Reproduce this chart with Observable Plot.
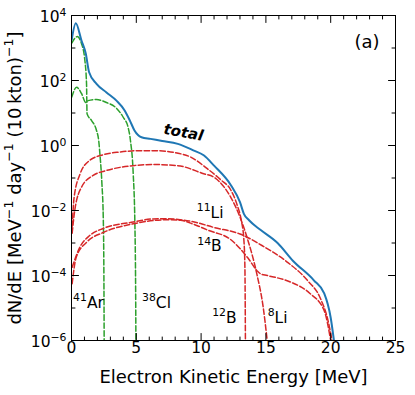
<!DOCTYPE html>
<html><head><meta charset="utf-8">
<script src="https://cdn.jsdelivr.net/npm/d3@7"></script>
<script src="https://cdn.jsdelivr.net/npm/@observablehq/plot@0.6"></script>
<style>html,body{margin:0;padding:0;background:#fff;}</style>
</head><body><div id="chart"></div>
<script>
// ---- data: [electron kinetic energy (MeV), dN/dE] ----
const total = [[0.02,1.8e3],[0.33,5.75e3],[0.77,1.7e3],[1.1,6.8e2],[1.36,1.8e2],[1.93,79],[2.7,43],[3.47,24],[4.1,12],[4.5,5.9],[4.86,2.9],[5.4,1.8],[6.1,1.6],[7.0,1.38],[8.2,1.12],[9.4,0.71],[10.2,0.5],[11.0,0.24],[12.3,0.06],[13.0,0.018],[13.3,7.9e-3],[13.7,5.0e-3],[14.6,2.5e-3],[15.9,1.0e-3],[17.1,2.8e-4],[18.7,7.1e-5],[19.5,2.8e-5],[20.0,5e-6],[20.25,1e-6]];
const ar41 = [[0.02,1.4e3],[0.44,2.24e3],[0.77,1.38e3],[1.03,4.2e2],[1.16,79],[1.2,9.5],[1.54,5.9],[1.93,2.9],[2.1,1.4],[2.2,0.5],[2.35,0.063],[2.45,6.3e-3],[2.5,1e-4],[2.52,1e-6]];
const cl38 = [[0.02,31],[0.39,62],[0.77,40],[1.1,21],[1.28,24],[1.93,26],[2.7,21],[3.47,14],[3.99,7.4],[4.37,3.6],[4.55,1.4],[4.76,0.14],[4.89,4e-3],[4.95,3.2e-5],[4.97,1e-6]];
const b12 = [[0.05,3.2e-3],[0.2,0.025],[0.64,0.126],[1.41,0.35],[2.45,0.52],[3.73,0.63],[5.1,0.69],[6.5,0.69],[8.0,0.6],[9.2,0.44],[10.5,0.19],[11.5,0.089],[12.3,0.042],[12.8,0.014],[13.1,5e-3],[13.3,1.26e-3],[13.38,1.8e-4],[13.42,1e-6]];
const li8 = [[0.05,2e-3],[0.25,0.01],[0.77,0.052],[1.67,0.12],[2.7,0.17],[4.76,0.24],[6.3,0.26],[8.2,0.24],[10.2,0.135],[11.0,0.105],[12.3,0.025],[13.0,6.3e-3],[13.6,1.26e-3],[14.3,1.12e-4],[14.8,1e-5],[15.1,1e-6]];
const li11 = [[0.05,1.8e-4],[0.64,7.4e-4],[1.41,1.7e-3],[2.45,2.8e-3],[4.76,4.4e-3],[6.3,5.5e-3],[7.4,5.6e-3],[8.4,5.2e-3],[9.4,4.5e-3],[11.0,3.0e-3],[13.0,1.9e-3],[14.8,7.9e-4],[16.7,2.5e-4],[18.2,7.1e-5],[19.2,2.0e-5],[19.8,4e-6],[20.1,1e-6]];
const b14 = [[0.05,5.6e-5],[0.36,3.6e-4],[1.16,1.05e-3],[2.45,2.1e-3],[4.76,3.9e-3],[6.3,4.9e-3],[7.4,5.2e-3],[8.4,5.0e-3],[9.4,3.8e-3],[10.5,2.5e-3],[12.3,1.26e-3],[13.6,3.5e-4],[14.4,1.3e-4],[14.6,1.12e-4],[15.1,1e-4],[16.9,6.3e-5],[18.4,2.8e-5],[19.5,8.3e-6],[20.0,1e-6]];

// ---- ticks and labels ( ^{..} marks a superscript ) ----
const xTicks = [0,5,10,15,20,25];
const xMinorTicks = [1,2,3,4,6,7,8,9,11,12,13,14,16,17,18,19,21,22,23,24];
const yTicks = [1e4,1e2,1,1e-2,1e-4,1e-6];
const yTickLabels = ["10^{4}","10^{2}","10^{0}","10^{−2}","10^{−4}","10^{−6}"];
const yMinorTicks = [1e3,10,0.1,1e-3,1e-5];
const isotopeLabels = [
  {x:1.31, y:1.4e-5, text:"^{41}Ar"},
  {x:6.56, y:1.4e-5, text:"^{38}Cl"},
  {x:11.8, y:5.0e-6, text:"^{12}B"},
  {x:15.9, y:4.8e-6, text:"^{8}Li"},
  {x:10.7, y:8.2e-3, text:"^{11}Li"},
  {x:10.65, y:7.8e-4, text:"^{14}B"}
];
const totalLabel = [{x:8.64, y:2.5, text:"total"}];
const panelLabel = [{x:22.8, y:1.5e3, text:"(a)"}];
const xTitle = "Electron Kinetic Energy [MeV]";
const yTitle = "dN/dE [MeV^{−1} day^{−1} (10\u2009kton)^{−1}]";

const BLUE = "#1f77b4", GREEN = "#2ca02c", RED = "#d62728";
const dash = "5.5,2.4";
const FONT = "DejaVu Sans, sans-serif";

const tickShape = (dx, dy) => ({draw(ctx, l) { ctx.moveTo(0, 0); ctx.lineTo(dx * l, dy * l); }});
function ticks(values, dim, len) {
  const ch = dim === "x" ? {x: d => d} : {y: d => d};
  const sides = dim === "x" ? [["bottom", 0, -1], ["top", 0, 1]] : [["left", 1, 0], ["right", -1, 0]];
  return sides.map(([fa, dx, dy]) => Plot.vector(values, {...ch, frameAnchor: fa, length: len, anchor: "start", shape: tickShape(dx, dy), stroke: "black", strokeWidth: 1}));
}
const line = (data, color, w, dashed) => Plot.line(data, {x: d => d[0], y: d => d[1], stroke: color, strokeWidth: w, strokeDasharray: dashed ? dash : null, curve: "monotone-x", clip: true});

const chart = Plot.plot({
  width: 415, height: 395,
  marginLeft: 71, marginRight: 20, marginTop: 15, marginBottom: 55,
  style: {fontFamily: FONT, fontSize: "16px", background: "white", color: "black"},
  x: {domain: [0, 25], axis: null},
  y: {type: "log", domain: [1e-6, 1e4], axis: null},
  marks: [
    line(ar41, GREEN, 1.5, true),
    line(cl38, GREEN, 1.5, true),
    line(b12, RED, 1.5, true),
    line(li8, RED, 1.5, true),
    line(li11, RED, 1.5, true),
    line(b14, RED, 1.5, true),
    line(total, BLUE, 2, false),
    Plot.frame({stroke: "black", strokeWidth: 1}),
    ...ticks(xTicks, "x", 7),
    ...ticks(xMinorTicks, "x", 3.5),
    ...ticks(yTicks, "y", 7),
    ...ticks(yMinorTicks, "y", 3.5),
    Plot.text(xTicks, {x: d => d, frameAnchor: "bottom", dy: 12, text: d => String(d), fontSize: 15.5}),
    Plot.text(yTicks, {y: d => d, frameAnchor: "left", dx: -5, dy: 2, textAnchor: "end", text: (d, i) => yTickLabels[i], fontSize: 15.5}),
    Plot.text([xTitle], {frameAnchor: "bottom", dy: 42, textAnchor: "middle", text: d => d, fontSize: 18}),
    Plot.text([yTitle], {frameAnchor: "left", dx: -56, textAnchor: "middle", rotate: -90, text: d => d, fontSize: 18}),
    Plot.text(isotopeLabels, {x: "x", y: "y", text: "text", fontSize: 15.5}),
    Plot.text(totalLabel, {x: "x", y: "y", text: "text", fontSize: 15, fontWeight: "bold", fontStyle: "italic", rotate: 10}),
    Plot.text(panelLabel, {x: "x", y: "y", text: "text", fontSize: 18})
  ]
});
document.getElementById("chart").appendChild(chart);

// turn ^{...} into real superscript tspans (mathtext-like)
chart.querySelectorAll("text").forEach(t => {
  const s = t.textContent;
  if (!s.includes("^{")) return;
  const size = parseFloat(getComputedStyle(t).fontSize);
  const shift = 0.45 * size;
  while (t.firstChild) t.removeChild(t.firstChild);
  const re = /\^\{([^}]*)\}/g;
  let last = 0, m, raised = false;
  const add = (txt, sup) => {
    if (!txt) return;
    const sp = document.createElementNS("http://www.w3.org/2000/svg", "tspan");
    sp.textContent = txt;
    if (sup) {
      sp.setAttribute("font-size", (0.7 * size) + "px");
      if (!raised) { sp.setAttribute("dy", -shift); raised = true; }
    } else if (raised) { sp.setAttribute("dy", shift); raised = false; }
    t.appendChild(sp);
  };
  while ((m = re.exec(s))) {
    add(s.slice(last, m.index), false);
    add(m[1], true);
    last = re.lastIndex;
  }
  add(s.slice(last), false);
});
</script></body></html>
